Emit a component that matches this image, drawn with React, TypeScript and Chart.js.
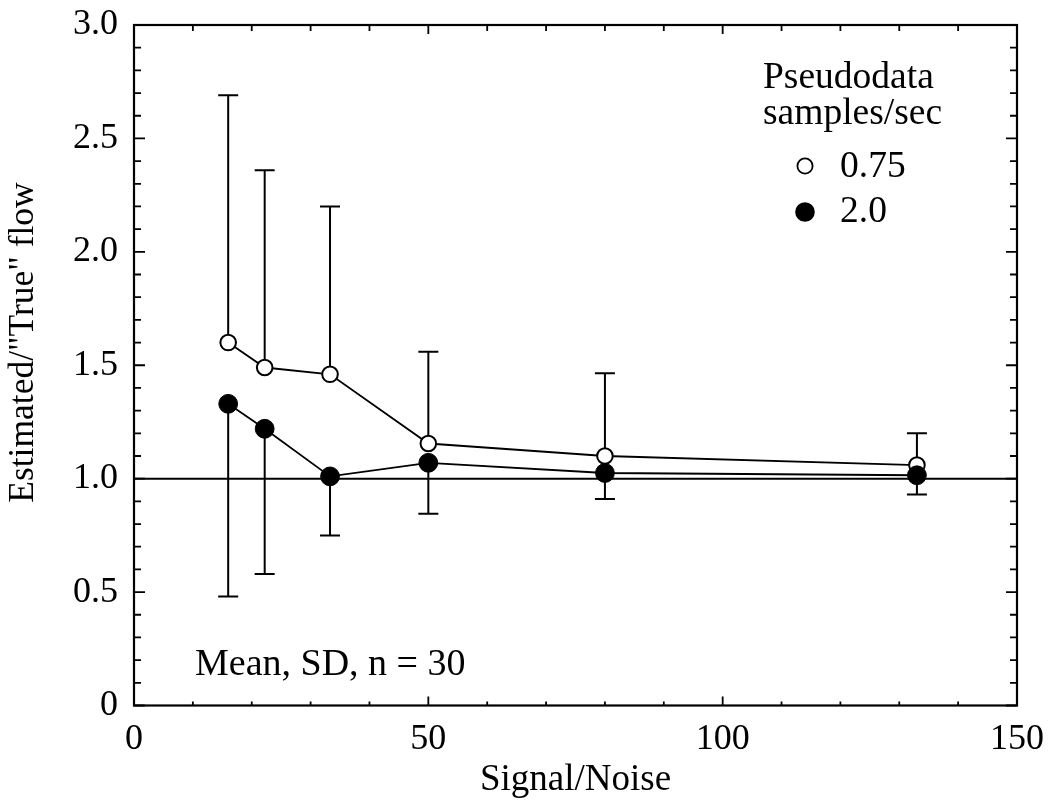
import React, { useEffect, useRef } from "react";
import { Chart, registerables } from "chart.js";

Chart.register(...registerables);

// ---- data ----
const signalNoise = [16, 22.2, 33.3, 50, 80, 133];
const meanSlow = [1.6, 1.49, 1.46, 1.155, 1.1, 1.06]; // 0.75 samples/sec (open)
const sdSlow = [1.09, 0.87, 0.74, 0.405, 0.365, 0.14];
const meanFast = [1.33, 1.22, 1.01, 1.07, 1.025, 1.015]; // 2.0 samples/sec (filled)
const sdFast = [0.85, 0.64, 0.26, 0.225, 0.115, 0.085];
const referenceValue = 1.0;
const xTickValues = [0, 50, 100, 150];
const yTickLabels = ["0", "0.5", "1.0", "1.5", "2.0", "2.5", "3.0"];
const legendTitle = ["Pseudodata", "samples/sec"];
const seriesLabels = ["0.75", "2.0"];
const noteText = "Mean, SD, n = 30";
const xTitle = "Signal/Noise";
const yTitle = 'Estimated/"True" flow';

const FONT = '"Liberation Serif", "Times New Roman", serif';

const zeroPad = (s: any) => {
  s.paddingTop = 0;
  s.paddingBottom = 0;
  s.paddingLeft = 0;
  s.paddingRight = 0;
};

const decor = {
  id: "decor",
  beforeDatasetsDraw(chart: any) {
    const { ctx, chartArea: a, scales } = chart;
    const x = scales.x;
    const y = scales.y;
    ctx.save();
    ctx.strokeStyle = "#000";
    ctx.lineWidth = 2;
    const yr = y.getPixelForValue(referenceValue);
    ctx.beginPath();
    ctx.moveTo(a.left, yr);
    ctx.lineTo(a.right, yr);
    ctx.stroke();
    ctx.lineWidth = 2;
    const bar = (xv: number, y0: number, y1: number) => {
      const px = x.getPixelForValue(xv);
      const p0 = y.getPixelForValue(y0);
      const p1 = y.getPixelForValue(y1);
      ctx.beginPath();
      ctx.moveTo(px, p0);
      ctx.lineTo(px, p1);
      ctx.moveTo(px - 10, p1);
      ctx.lineTo(px + 10, p1);
      ctx.stroke();
    };
    signalNoise.forEach((s, i) => {
      bar(s, meanSlow[i], meanSlow[i] + sdSlow[i]);
      bar(s, meanFast[i], meanFast[i] - sdFast[i]);
    });
    ctx.restore();
  },
  afterDraw(chart: any) {
    const { ctx, chartArea: a, scales } = chart;
    const x = scales.x;
    const y = scales.y;
    ctx.save();
    ctx.strokeStyle = "#000";
    ctx.fillStyle = "#000";
    ctx.lineWidth = 2.2;
    ctx.strokeRect(a.left, a.top, a.right - a.left, a.bottom - a.top);
    ctx.lineWidth = 1.8;
    ctx.beginPath();
    for (let v = 0; v <= 150; v += 10) {
      const px = x.getPixelForValue(v);
      const major = v % 50 === 0;
      ctx.moveTo(px, a.bottom);
      ctx.lineTo(px, a.bottom - (major ? 9 : 4));
      ctx.moveTo(px, a.top);
      ctx.lineTo(px, a.top + (major ? 9 : 6));
    }
    for (let k = 0; k <= 30; k++) {
      const py = y.getPixelForValue(k / 10);
      const major = k % 5 === 0;
      ctx.moveTo(a.left, py);
      ctx.lineTo(a.left + (major ? 11 : 7), py);
      ctx.moveTo(a.right, py);
      ctx.lineTo(a.right - (major ? 11 : 7), py);
    }
    ctx.stroke();

    // axis titles
    ctx.textBaseline = "alphabetic";
    ctx.textAlign = "center";
    ctx.font = `37px ${FONT}`;
    ctx.fillText(xTitle, (a.left + a.right) / 2, 790);
    ctx.save();
    ctx.translate(33, 342.5);
    ctx.rotate(-Math.PI / 2);
    ctx.font = `35.5px ${FONT}`;
    ctx.fillText(yTitle, 0, 0);
    ctx.restore();

    // note
    ctx.textAlign = "left";
    ctx.font = `38px ${FONT}`;
    ctx.fillText(noteText, 195, 675);

    // legend
    ctx.font = `37.5px ${FONT}`;
    ctx.fillText(legendTitle[0], 763, 88);
    ctx.fillText(legendTitle[1], 763, 124);
    ctx.fillText(seriesLabels[0], 840, 177);
    ctx.fillText(seriesLabels[1], 840, 222);
    ctx.lineWidth = 1.8;
    ctx.beginPath();
    ctx.arc(805, 166, 7.6, 0, Math.PI * 2);
    ctx.fillStyle = "#fff";
    ctx.fill();
    ctx.stroke();
    ctx.beginPath();
    ctx.arc(805, 212, 9.8, 0, Math.PI * 2);
    ctx.fillStyle = "#000";
    ctx.fill();
    ctx.restore();
  },
};

export default function App() {
  const ref = useRef<HTMLCanvasElement | null>(null);
  useEffect(() => {
    document.body.style.margin = "0";
    const canvas = ref.current;
    if (!canvas) return;
    const chart = new Chart(canvas, {
      type: "line",
      data: {
        datasets: [
          {
            label: seriesLabels[1],
            data: signalNoise.map((s, i) => ({ x: s, y: meanFast[i] })),
            borderColor: "#000",
            borderWidth: 1.8,
            pointRadius: 9.4,
            pointBorderWidth: 1,
            pointBackgroundColor: "#000",
            pointBorderColor: "#000",
            tension: 0,
            fill: false,
          },
          {
            label: seriesLabels[0],
            data: signalNoise.map((s, i) => ({ x: s, y: meanSlow[i] })),
            borderColor: "#000",
            borderWidth: 1.8,
            pointRadius: 7.8,
            pointBorderWidth: 2,
            pointBackgroundColor: "#fff",
            pointBorderColor: "#000",
            tension: 0,
            fill: false,
          },
        ],
      },
      options: {
        animation: false,
        responsive: false,
        devicePixelRatio: 1,
        layout: { padding: { left: 0, top: 25, right: 33, bottom: 0 } },
        plugins: { legend: { display: false }, tooltip: { enabled: false } },
        scales: {
          x: {
            type: "linear",
            min: 0,
            max: 150,
            afterFit: (s: any) => {
              s.height = 103.5;
              zeroPad(s);
            },
            afterBuildTicks: (s: any) => {
              s.ticks = xTickValues.map((v) => ({ value: v }));
            },
            ticks: {
              font: { family: FONT, size: 36 },
              color: "#000",
              padding: 12,
              maxRotation: 0,
              autoSkip: false,
              callback: (v: any) => String(v),
            },
            grid: { display: false, drawTicks: false },
            border: { display: false },
          },
          y: {
            type: "linear",
            min: 0,
            max: 3,
            afterFit: (s: any) => {
              s.width = 134;
              zeroPad(s);
            },
            afterBuildTicks: (s: any) => {
              s.ticks = yTickLabels.map((_, i) => ({ value: i * 0.5 }));
            },
            ticks: {
              font: { family: FONT, size: 36 },
              color: "#000",
              padding: 16,
              autoSkip: false,
              callback: (_v: any, i: number) => yTickLabels[i],
            },
            grid: { display: false, drawTicks: false },
            border: { display: false },
          },
        },
      },
      plugins: [decor],
    });
    return () => chart.destroy();
  }, []);
  return (
    <div style={{ width: 1050, height: 809, background: "#fff" }}>
      <canvas ref={ref} width={1050} height={809} />
    </div>
  );
}
